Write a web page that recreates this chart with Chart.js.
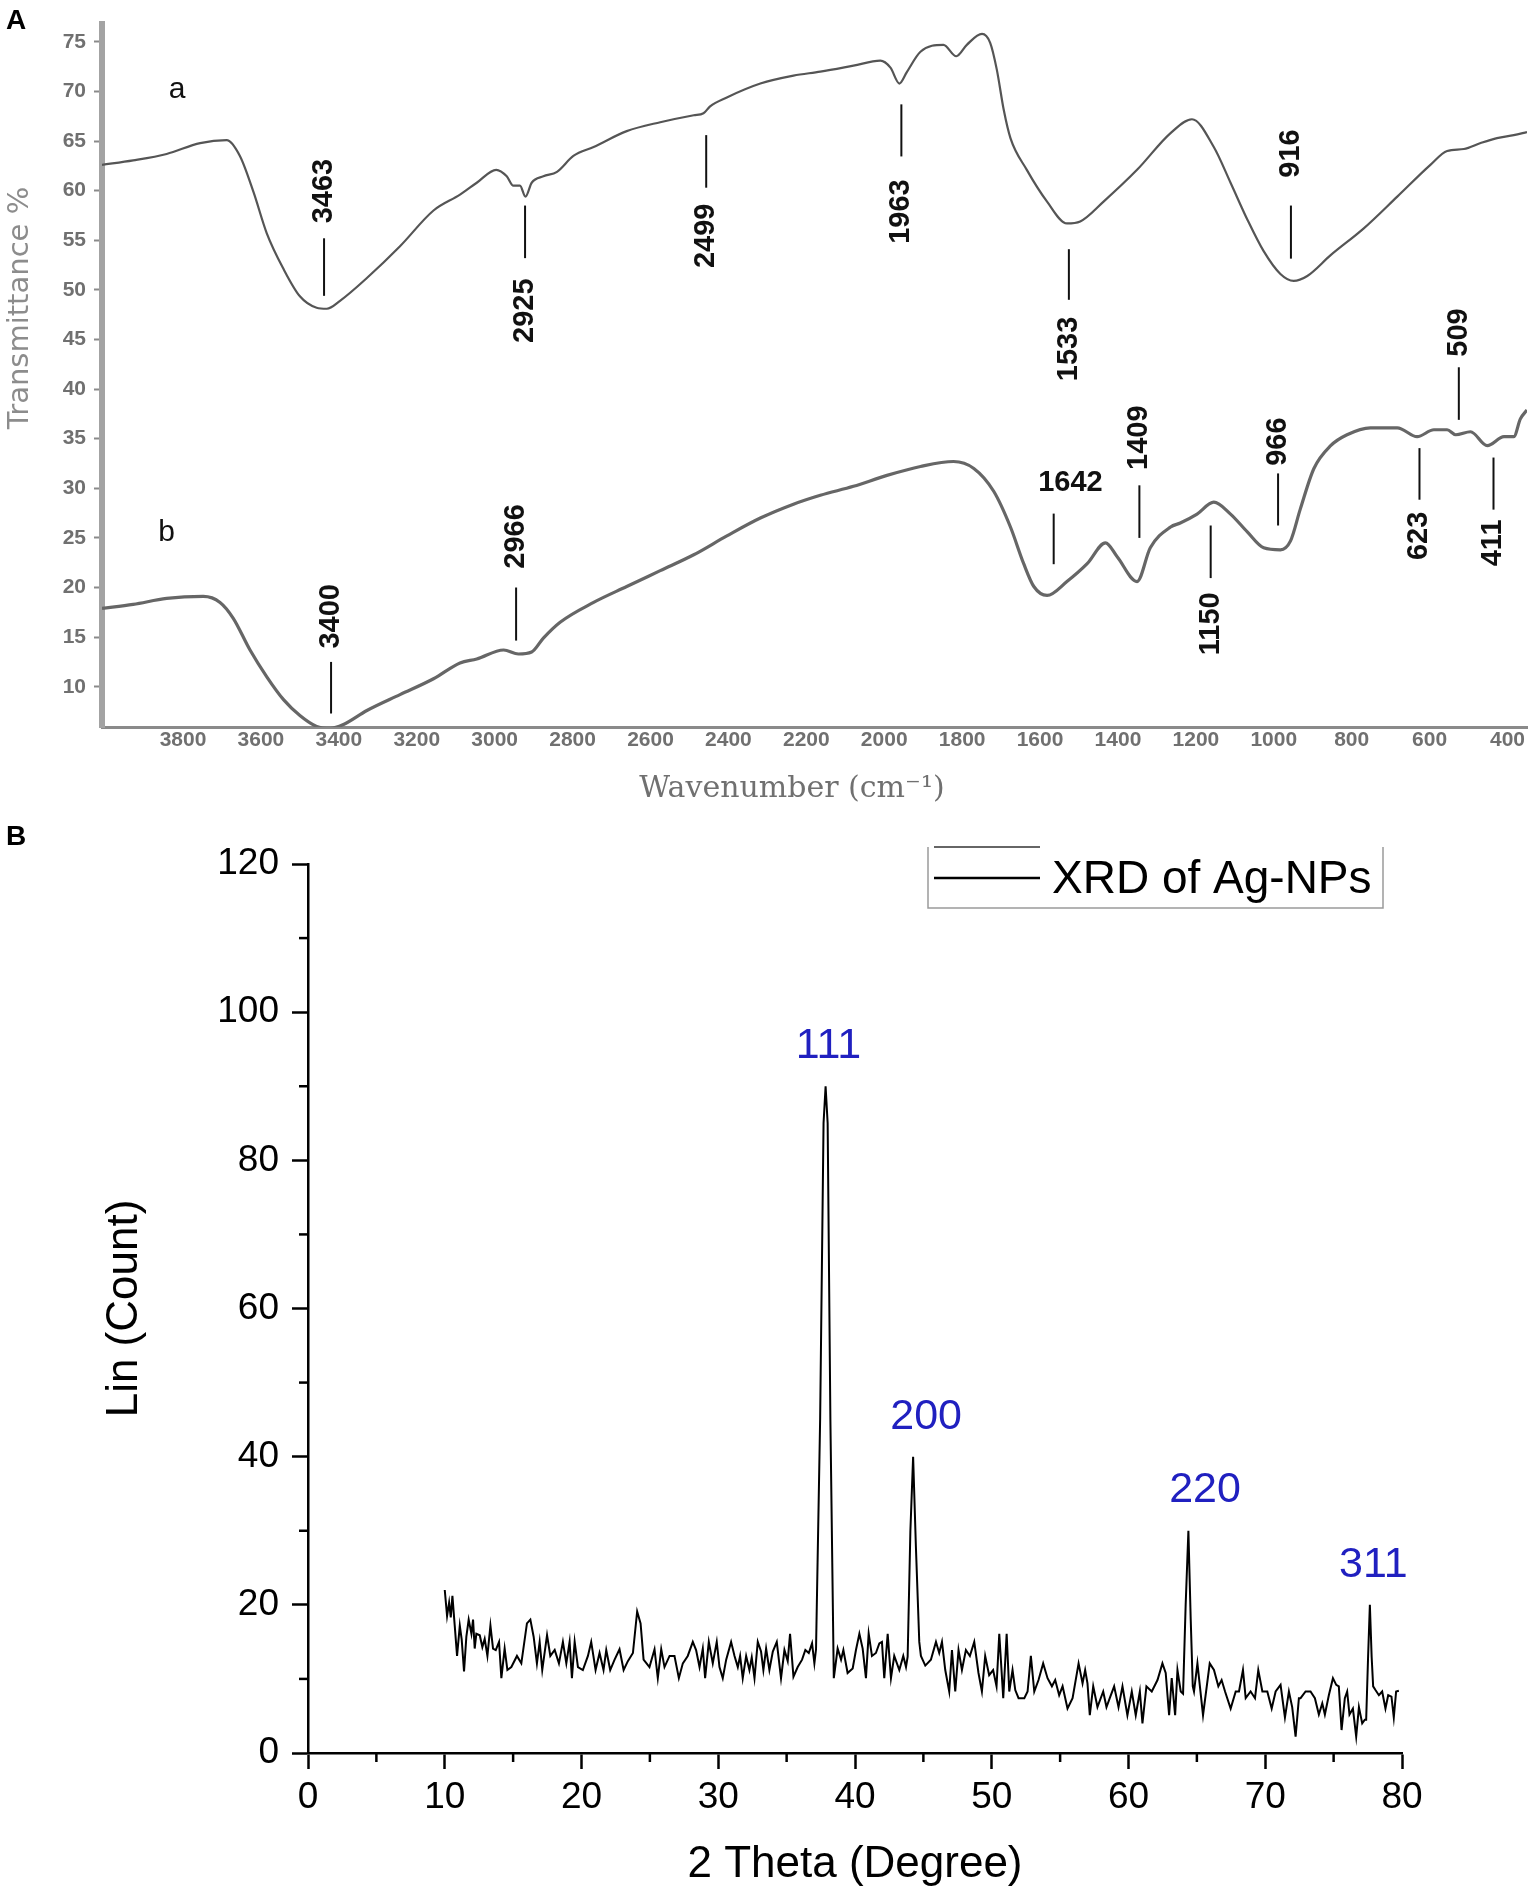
<!DOCTYPE html>
<html>
<head>
<meta charset="utf-8">
<script src="https://cdn.jsdelivr.net/npm/chart.js@4.4.1/dist/chart.umd.min.js"></script>
<style>
  body { margin:0; background:#fff; width:1535px; height:1902px; position:relative; overflow:hidden; }
  .panel { position:absolute; left:0; width:1535px; }
  #boxA { top:0; height:820px; }
  #boxB { top:820px; height:1082px; }
  .tag { position:absolute; left:6px; font:bold 28px "Liberation Sans", Arial, sans-serif; color:#000; line-height:29px; }
</style>
</head>
<body>
<div class="panel" id="boxA"><canvas id="irChart"></canvas></div>
<div class="panel" id="boxB"><canvas id="xrdChart"></canvas></div>
<div class="tag" style="top:5px">A</div>
<div class="tag" style="top:821px">B</div>
<script>
// ---- panel A : FTIR spectra ----
const irXTicks = [3800,3600,3400,3200,3000,2800,2600,2400,2200,2000,1800,1600,1400,1200,1000,800,600,400];
const irYTicks = [10,15,20,25,30,35,40,45,50,55,60,65,70,75];

const irAWn = [4008,3928,3842,3756,3688,3654,3619,3585,3542,3500,3457,3431,3397,3328,3243,3157,3089,3046,2996,2969,2952,2935,2921,2905,2875,2840,2798,2746,2661,2575,2489,2464,2447,2404,2318,2233,2164,2079,2010,1984,1961,1942,1907,1848,1815,1788,1749,1728,1711,1693,1676,1634,1582,1531,1497,1437,1351,1265,1210,1154,1111,1068,1026,983,949,914,854,769,683,598,555,512,469,427,384,350];
const irAT  = [62.6,63.05,63.7,64.8,65.1,63.5,59.85,55.7,52.1,49.35,48.2,48.1,48.9,51.2,54.4,58.0,59.6,60.8,62.1,61.45,60.5,60.5,59.4,60.8,61.45,61.9,63.5,64.4,66.0,66.9,67.6,67.8,68.5,69.4,70.8,71.6,72.0,72.6,73.1,72.4,70.8,71.95,74.0,74.7,73.55,74.7,75.8,74.9,72.2,68.1,65.3,62.1,58.9,56.7,56.9,58.9,62.1,65.8,67.2,64.4,60.8,57.1,53.9,51.6,50.9,51.4,53.5,56.2,59.4,62.6,64.0,64.2,64.8,65.3,65.6,65.9];

const irBWn = [4008,3928,3842,3748,3705,3671,3628,3585,3542,3500,3457,3422,3388,3328,3243,3157,3089,3046,2977,2939,2905,2875,2832,2746,2661,2575,2489,2404,2318,2233,2164,2079,1993,1907,1822,1770,1719,1676,1642,1616,1582,1531,1479,1432,1402,1351,1317,1265,1240,1197,1154,1111,1068,1026,983,957,932,897,854,812,752,683,632,589,555,533,495,452,409,384,367,350];
const irBT  = [17.9,18.3,18.9,19.1,18.5,16.9,13.7,11.0,8.7,7.1,6.0,5.8,6.2,7.6,9.2,10.8,12.4,12.8,13.7,13.3,13.5,14.9,16.5,18.5,20.1,21.7,23.3,25.2,27.0,28.4,29.3,30.2,31.3,32.2,32.7,32.0,29.7,26.1,22.4,20.1,19.2,20.6,22.4,24.5,23.1,20.6,24.0,26.1,26.5,27.4,28.6,27.4,25.6,24.0,23.8,24.7,27.9,32.0,34.3,35.4,36.1,36.1,35.2,35.9,35.9,35.4,35.7,34.3,35.2,35.2,37.0,37.9];

// peak marks: text, wavenumber of the line, line ends, label centre
const markText    = ['3463','2925','2499','1963','1533','916','3400','2966','1642','1409','1150','966','623','509','411'];
const markWn      = [3438,2922,2457,1956,1526,956,3420,2945,1565,1345,1162,989,626,525,436];
const markTop     = [55.2,58.5,65.6,68.7,54.1,58.5,12.5,20.0,27.45,30.3,26.25,31.5,34.05,42.2,33.1];
const markBottom  = [49.4,53.2,60.3,63.45,49.0,53.15,7.3,14.65,22.35,25.0,20.95,26.25,28.85,36.9,27.85];
const markLabelWn = [3438,2922,2457,1956,1526,956,3420,2945,1522,1345,1162,989,626,525,436];
const markLabelT  = [59.96,47.9,55.45,57.9,44.05,63.75,17.1,25.15,30.55,35.1,16.35,34.7,25.2,45.7,24.5];
const markUpright = [false,false,false,false,false,false,false,false,true,false,false,false,false,false,false];

const curveTags  = ['a','b'];
const curveTagWn = [3815,3842];
const curveTagT  = [70.2,25.5];

// ---- panel B : XRD ----
const xrdTheta = [10.00,10.17,10.32,10.44,10.56,10.73,10.90,11.10,11.24,11.41,11.58,11.75,11.95,12.07,12.19,12.31,12.56,12.75,12.92,13.12,13.34,13.53,13.73,13.97,14.14,14.38,14.58,14.87,15.28,15.60,16.01,16.26,16.50,16.74,16.94,17.13,17.48,17.72,18.04,18.35,18.64,18.89,19.13,19.30,19.50,19.74,20.10,20.47,20.71,21.03,21.32,21.61,21.81,22.10,22.42,22.78,23.08,23.39,23.76,24.07,24.32,24.54,24.97,25.34,25.58,25.83,26.07,26.44,26.80,27.12,27.41,27.77,28.14,28.38,28.63,28.87,29.04,29.31,29.60,29.89,
  30.09,30.33,30.58,30.94,31.19,31.43,31.60,31.79,32.04,32.28,32.45,32.65,32.89,33.13,33.30,33.50,33.74,33.99,34.28,34.59,34.84,35.08,35.25,35.50,35.81,36.13,36.37,36.62,36.86,37.03,37.15,37.45,37.70,37.85,38.00,38.20,38.45,38.73,38.98,39.15,39.46,39.83,40.07,40.32,40.56,40.80,41.00,41.24,41.53,41.78,41.97,42.14,42.39,42.63,42.87,43.24,43.53,43.73,43.85,44.05,44.25,44.45,44.70,44.82,45.14,45.55,45.92,46.16,46.36,46.60,46.89,47.09,47.33,47.57,47.82,48.11,48.40,48.72,49.03,49.28,49.52,49.81,50.10,50.35,
  50.55,50.84,51.09,51.28,51.52,51.72,51.96,52.38,52.62,52.86,53.11,53.42,53.76,54.08,54.40,54.64,54.93,55.18,55.54,55.91,56.35,56.64,56.83,57.00,57.17,57.42,57.73,58.15,58.39,58.71,58.95,59.27,59.56,59.92,60.24,60.53,60.83,61.02,61.31,61.70,62.12,62.48,62.72,62.97,63.16,63.41,63.58,63.82,63.99,64.18,64.38,64.55,64.70,64.79,65.04,65.45,65.94,66.25,66.57,66.81,67.06,67.47,67.84,68.08,68.37,68.57,68.93,69.25,69.49,69.79,70.15,70.47,70.76,71.12,71.44,71.73,71.97,72.22,72.46,
  72.58,72.95,73.31,73.63,73.92,74.17,74.36,74.65,74.95,75.19,75.38,75.58,75.82,75.99,76.16,76.41,76.65,76.85,77.09,77.28,77.38,77.52,77.65,77.78,77.89,78.06,78.31,78.55,78.79,78.99,79.23,79.40,79.57,79.77];
const xrdCount = [22.0,18.5,20.3,18.3,21.2,17.2,13.1,17.2,15.3,11.0,15.7,18.0,16.1,18.0,14.1,16.1,15.9,14.3,15.4,13.1,17.2,14.1,13.9,15.0,10.1,14.1,11.2,11.6,13.1,12.1,17.5,18.0,15.7,12.1,15.0,11.2,15.9,13.1,13.9,12.1,15.0,12.1,15.0,10.1,15.0,11.6,11.2,13.1,15.0,11.2,13.5,11.2,13.9,11.2,12.6,14.0,11.2,12.4,13.5,19.1,17.5,12.6,11.6,14.0,10.1,14.0,11.6,13.1,13.1,10.1,12.1,13.1,15.0,13.9,11.6,14.1,10.1,15.0,12.1,15.0,
  11.6,10.1,12.6,15.0,13.1,11.6,13.1,10.1,13.1,11.2,12.9,10.1,15.0,13.7,11.2,14.1,11.2,13.7,15.0,10.1,13.9,12.4,16.1,10.3,11.6,12.6,13.9,13.5,14.8,12.1,14.0,45.0,85.0,90.0,85.0,45.0,10.1,14.1,12.6,13.9,10.8,11.4,13.9,16.1,14.1,10.1,16.1,13.1,13.5,14.8,15.0,10.1,16.1,10.1,13.1,11.2,13.1,11.6,13.0,30.0,40.0,28.0,15.0,13.1,11.8,12.6,15.0,13.5,15.0,11.2,8.3,13.9,8.3,13.9,11.2,13.9,13.1,15.0,10.8,8.3,13.1,10.5,11.2,9.0,
  16.1,7.4,16.1,8.3,11.2,8.5,7.4,7.4,8.3,13.1,8.3,9.85,12.1,10.1,9.0,9.85,7.8,9.0,6.0,7.4,12.1,9.4,11.2,9.4,5.1,9.0,6.2,8.3,6.2,7.8,9.0,6.2,9.0,5.1,8.3,5.1,8.3,4.0,9.0,8.3,9.85,12.1,10.8,5.1,10.1,5.1,11.2,8.3,8.0,20.0,30.0,18.0,9.0,8.3,12.1,5.1,12.1,11.2,9.0,9.85,8.3,6.0,8.3,8.3,11.2,7.4,8.3,7.4,11.2,8.3,8.3,6.0,8.3,9.2,4.8,8.3,6.2,2.2,7.4,
  7.4,8.3,8.3,7.4,5.2,6.7,5.2,7.8,10.1,9.2,9.0,3.1,7.4,8.3,5.2,6.0,2.2,6.2,4.0,4.5,4.5,13.0,20.0,13.0,9.0,8.5,7.8,8.3,6.0,7.8,7.6,4.8,8.3,8.4];

const hklText  = ['111','200','220','311'];
const hklTheta = [38.06,45.2,65.6,77.9];
const hklCount = [95.4,45.4,35.5,25.4];

const xMinorTicks = [5,15,25,35,45,55,65,75];
const yMinorTicks = [10,30,50,70,90,110];

const SANS = '"Liberation Sans", Arial, sans-serif';

// ---------- chart A ----------
const irMarks = {
  id: 'irMarks',
  afterDatasetsDraw(chart) {
    const ctx = chart.ctx, x = chart.scales.x, y = chart.scales.y;
    ctx.save();
    ctx.strokeStyle = '#111';
    ctx.lineWidth = 2;
    ctx.fillStyle = '#111';
    ctx.font = 'bold 29px ' + SANS;
    ctx.textAlign = 'center';
    ctx.textBaseline = 'middle';
    markText.forEach((t, i) => {
      const px = x.getPixelForValue(markWn[i]);
      ctx.beginPath();
      ctx.moveTo(px, y.getPixelForValue(markTop[i]));
      ctx.lineTo(px, y.getPixelForValue(markBottom[i]));
      ctx.stroke();
      const lx = x.getPixelForValue(markLabelWn[i]), ly = y.getPixelForValue(markLabelT[i]);
      if (markUpright[i]) {
        ctx.fillText(t, lx, ly);
      } else {
        ctx.save();
        ctx.translate(lx, ly);
        ctx.rotate(-Math.PI / 2);
        ctx.fillText(t, 0, 0);
        ctx.restore();
      }
    });
    ctx.font = '30px ' + SANS;
    curveTags.forEach((t, i) => {
      ctx.fillText(t, x.getPixelForValue(curveTagWn[i]), y.getPixelForValue(curveTagT[i]));
    });
    ctx.restore();
  },
  afterDraw(chart) {
    const ctx = chart.ctx;
    ctx.save();
    ctx.textAlign = 'center';
    ctx.textBaseline = 'middle';
    ctx.fillStyle = '#8c8c8c';
    ctx.font = '29px "DejaVu Sans", sans-serif';
    ctx.translate(20, 308);
    ctx.rotate(-Math.PI / 2);
    ctx.fillText('Transmittance %', 0, 0);
    ctx.restore();
    ctx.save();
    ctx.textAlign = 'center';
    ctx.textBaseline = 'middle';
    ctx.fillStyle = '#707070';
    ctx.font = '30px "DejaVu Serif", serif';
    ctx.fillText('Wavenumber (cm\u207B\u00B9)', 792, 789);
    ctx.restore();
  }
};

new Chart(document.getElementById('irChart'), {
  type: 'line',
  data: {
    datasets: [
      { label: 'a', data: irAWn.map((w, i) => ({ x: w, y: irAT[i] })), borderColor: '#555', borderWidth: 2.2,
        pointRadius: 0, cubicInterpolationMode: 'monotone', fill: false },
      { label: 'b', data: irBWn.map((w, i) => ({ x: w, y: irBT[i] })), borderColor: '#666', borderWidth: 3.2,
        pointRadius: 0, cubicInterpolationMode: 'monotone', fill: false }
    ]
  },
  options: {
    responsive: true, maintainAspectRatio: false, animation: false,
    layout: { padding: { top: 24, right: 8, left: 0, bottom: 0 } },
    plugins: { legend: { display: false }, tooltip: { enabled: false } },
    scales: {
      x: {
        type: 'linear', reverse: true, min: 350, max: 4008,
        afterBuildTicks: s => { s.ticks = irXTicks.map(v => ({ value: v })); },
        afterFit: s => { s.height = 93; },
        ticks: { font: { family: SANS, size: 21, weight: 'bold' }, color: '#707070', padding: 1, maxRotation: 0, autoSkip: false,
                 callback: v => String(v) },
        grid: { drawOnChartArea: false, drawTicks: false },
        border: { display: true, color: '#8a8a8a', width: 3, dash: [14, 4] }
      },
      y: {
        min: 5.94, max: 76.8,
        afterBuildTicks: s => { s.ticks = irYTicks.map(v => ({ value: v })); },
        afterFit: s => { s.width = 102; },
        ticks: { font: { family: SANS, size: 21, weight: 'bold' }, color: '#707070', padding: 8, callback: v => String(v) },
        grid: { drawOnChartArea: false, tickLength: 8, tickColor: '#8a8a8a', tickWidth: 2 },
        border: { display: true, color: '#a3a3a3', width: 6, dash: [9, 2] }
      }
    }
  },
  plugins: [irMarks]
});

// ---------- chart B ----------
const xrdExtras = {
  id: 'xrdExtras',
  afterDraw(chart) {
    const ctx = chart.ctx, x = chart.scales.x, y = chart.scales.y, a = chart.chartArea;
    ctx.save();
    ctx.strokeStyle = '#000';
    ctx.lineWidth = 2.5;
    xMinorTicks.forEach(v => {
      const px = x.getPixelForValue(v);
      ctx.beginPath(); ctx.moveTo(px, a.bottom); ctx.lineTo(px, a.bottom + 9); ctx.stroke();
    });
    yMinorTicks.forEach(v => {
      const py = y.getPixelForValue(v);
      ctx.beginPath(); ctx.moveTo(a.left - 9, py); ctx.lineTo(a.left, py); ctx.stroke();
    });
    // Miller indices
    ctx.fillStyle = '#2020c0';
    ctx.font = '43px ' + SANS;
    ctx.textAlign = 'center';
    ctx.textBaseline = 'middle';
    hklText.forEach((t, i) => ctx.fillText(t, x.getPixelForValue(hklTheta[i]), y.getPixelForValue(hklCount[i])));
    // legend box
    const ds = chart.data.datasets[0];
    const L = a.left + 620, R = a.left + 1075, T = a.top - 17, B = a.top + 44;
    ctx.strokeStyle = '#9a9a9a';
    ctx.lineWidth = 1.5;
    ctx.beginPath();
    ctx.moveTo(L, T); ctx.lineTo(L, B); ctx.lineTo(R, B); ctx.lineTo(R, T);
    ctx.stroke();
    ctx.strokeStyle = '#333';
    ctx.beginPath(); ctx.moveTo(L + 6, T); ctx.lineTo(L + 112, T); ctx.stroke();
    ctx.strokeStyle = ds.borderColor;
    ctx.lineWidth = 2.5;
    ctx.beginPath(); ctx.moveTo(L + 6, T + 31); ctx.lineTo(L + 112, T + 31); ctx.stroke();
    ctx.fillStyle = '#000';
    ctx.font = '46px ' + SANS;
    ctx.textAlign = 'left';
    ctx.fillText(ds.label, L + 124, T + 33);
    ctx.restore();
  }
};

new Chart(document.getElementById('xrdChart'), {
  type: 'line',
  data: {
    datasets: [{
      label: 'XRD of Ag-NPs',
      data: xrdTheta.map((t, i) => ({ x: t, y: xrdCount[i] })),
      borderColor: '#000', borderWidth: 2, pointRadius: 0, tension: 0, fill: false
    }]
  },
  options: {
    responsive: true, maintainAspectRatio: false, animation: false,
    layout: { padding: { top: 44, right: 133, left: 0, bottom: 0 } },
    plugins: { legend: { display: false }, tooltip: { enabled: false } },
    scales: {
      x: {
        type: 'linear', min: 0, max: 80,
        afterFit: s => { s.height = 149; },
        ticks: { stepSize: 10, font: { family: SANS, size: 37 }, color: '#000', padding: 7, maxRotation: 0 },
        grid: { drawOnChartArea: false, tickLength: 16, tickColor: '#000', tickWidth: 2.5 },
        border: { display: true, color: '#000', width: 2.5 },
        title: { display: true, text: '2 Theta (Degree)', color: '#000', font: { family: SANS, size: 44 }, padding: { top: 0, bottom: 11 } }
      },
      y: {
        min: 0, max: 120,
        afterFit: s => { s.width = 308; },
        ticks: { stepSize: 20, font: { family: SANS, size: 37 }, color: '#000', padding: 13 },
        grid: { drawOnChartArea: false, tickLength: 16, tickColor: '#000', tickWidth: 2.5 },
        border: { display: true, color: '#000', width: 2.5 },
        title: { display: true, text: 'Lin (Count)', color: '#000', font: { family: SANS, size: 44 }, padding: { top: 98, bottom: 0 } }
      }
    }
  },
  plugins: [xrdExtras]
});
</script>
</body>
</html>
